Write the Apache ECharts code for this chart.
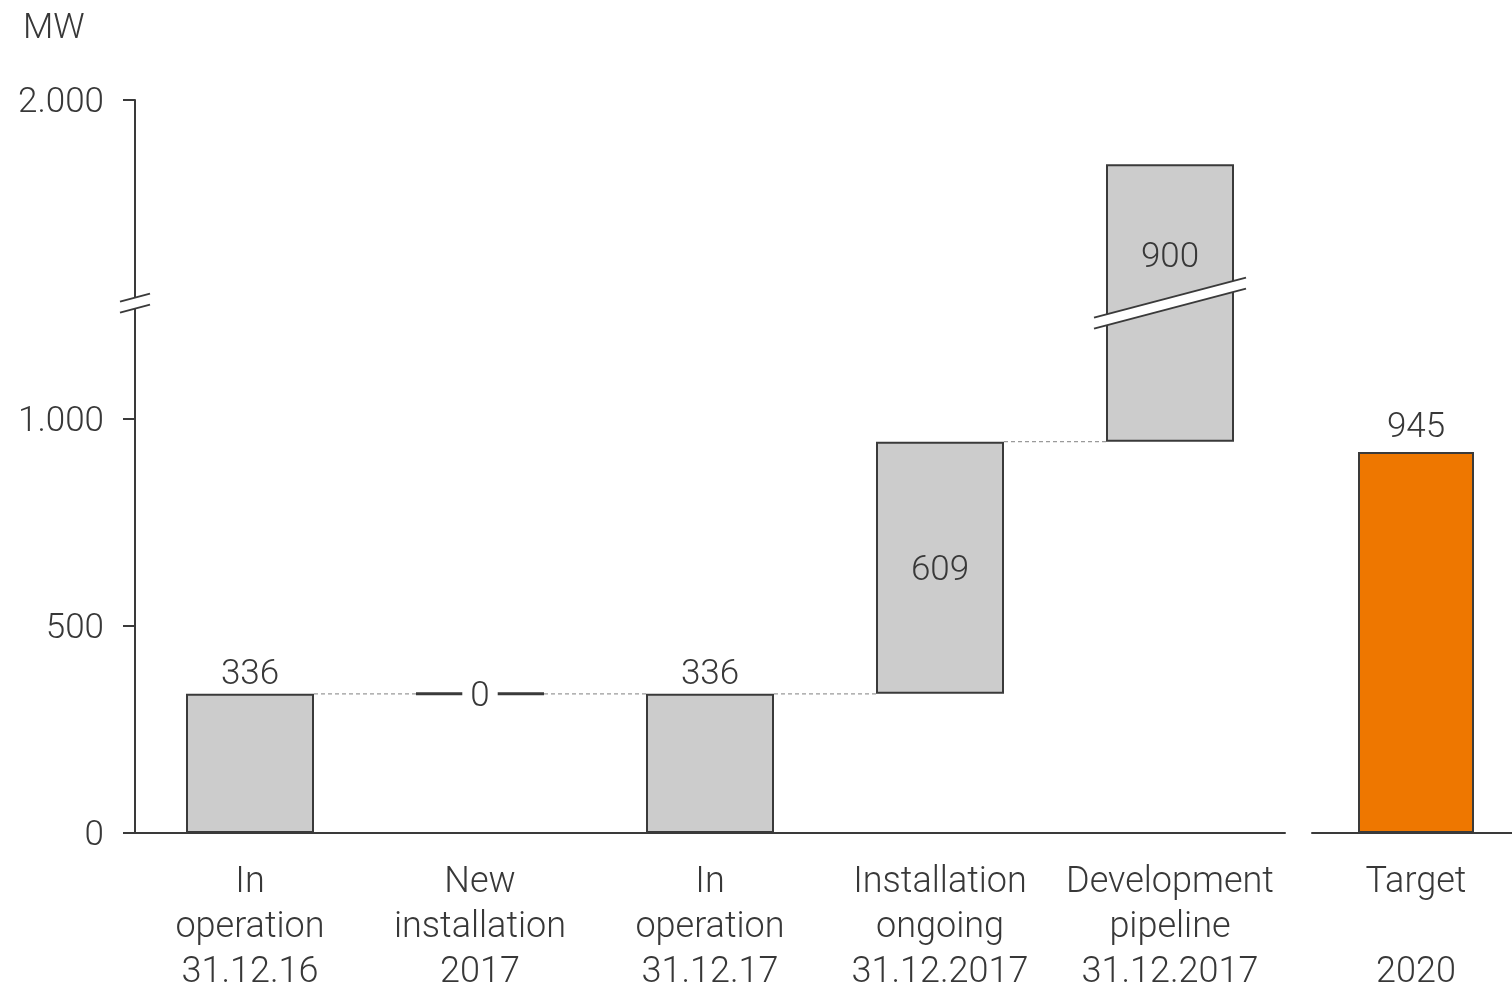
<!DOCTYPE html>
<html>
<head>
<meta charset="utf-8">
<script src="https://cdn.jsdelivr.net/npm/echarts@6/dist/echarts.min.js"></script>
<style>
html,body{margin:0;padding:0;background:#fff;}
#chart{width:1512px;height:989px;}
</style>
</head>
<body>
<div id="chart"></div>
<script>
// ---- data ----
const categories = ['In\noperation\n31.12.16', 'New\ninstallation\n2017', 'In\noperation\n31.12.17', 'Installation\nongoing\n31.12.2017', 'Development\npipeline\n31.12.2017'];
const baseValues = [0, 336, 0, 336, 945];
const stepValues = [336, 0, 336, 609, 900];
const connectorLevels = [336, 336, 336, 945];
const targetCategories = ['Target\n\n2020'];
const targetValues = [945];
const yTickLabels = [0, 500, 1000, 2000];
const unitLabel = 'MW';

// ---- style / layout ----
const FONT = 'Roboto';
const WEIGHT = 350;
const TXT = '#383838';
const LINE = '#3a3a3a';
const GRAY = '#cccccc';
const ORANGE = '#ee7700';
const BAR_W = 128;
const HALF = BAR_W / 2;
const BRK = { start: 1272, end: 1522, gap: 20 };
const breakBarIndex = 4;

const fmt = v => String(Math.round(v)).replace(/\B(?=(\d{3})+(?!\d))/g, '.');

function stepItem(v, i) {
  const item = { value: v };
  if (v === 0) {
    item.itemStyle = { borderWidth: 3, borderColor: LINE };
    item.label = { show: true, position: 'inside', backgroundColor: '#fff', padding: [0, 8], lineHeight: 36, offset: [0, 3] };
  } else if (baseValues[i] === 0) {
    item.label = { show: true, position: 'top', distance: 1 };
  } else if (i === breakBarIndex) {
    item.label = { show: true, position: 'inside', offset: [0, -45] };
  } else {
    item.label = { show: true, position: 'inside', offset: [0, 3] };
  }
  return item;
}

const chart = echarts.init(document.getElementById('chart'), null, { renderer: 'canvas' });

const axisText = { fontFamily: FONT, fontWeight: WEIGHT, fontSize: 35, color: TXT };
const catText = { fontFamily: FONT, fontWeight: WEIGHT, fontSize: 36, color: TXT };

const option = {
  animation: false,
  backgroundColor: '#fff',
  title: {
    text: unitLabel, left: 18, top: 7,
    textStyle: { fontFamily: FONT, fontSize: 35, fontWeight: WEIGHT, color: TXT }
  },
  grid: [
    { left: 135, right: 227, top: 100, bottom: 156, outerBoundsMode: 'none', containLabel: false },
    { left: 1312, width: 208, top: 100, bottom: 156, outerBoundsMode: 'none', containLabel: false }
  ],
  xAxis: [
    {
      type: 'category', gridIndex: 0, data: categories,
      axisLine: { show: true, lineStyle: { color: LINE, width: 2 } },
      axisTick: { show: false },
      axisLabel: Object.assign({ interval: 0, margin: 27, lineHeight: 45 }, catText)
    },
    {
      type: 'category', gridIndex: 1, data: targetCategories,
      axisLine: { show: true, lineStyle: { color: LINE, width: 2 } },
      axisTick: { show: false },
      axisLabel: Object.assign({ interval: 0, margin: 27, lineHeight: 45 }, catText)
    }
  ],
  yAxis: [
    {
      type: 'value', gridIndex: 0, min: 0, max: 2000, interval: 500,
      breaks: [{ start: BRK.start, end: BRK.end, gap: BRK.gap }],
      breakArea: { show: false },
      axisLine: { show: true, lineStyle: { color: LINE, width: 2 } },
      axisTick: { show: true, length: 12, lineStyle: { color: LINE, width: 2 }, customValues: yTickLabels },
      splitLine: { show: false },
      axisLabel: Object.assign({
        margin: 31,
        customValues: yTickLabels,
        formatter: v => '{t|' + fmt(v) + '}',
        rich: { t: { fontFamily: FONT, fontWeight: WEIGHT, fontSize: 35, color: TXT, padding: [7, 0, 0, 0] } }
      }, axisText)
    },
    {
      type: 'value', gridIndex: 1, min: 0, max: 1818, show: false,
      splitLine: { show: false }
    }
  ],
  series: [
    {
      name: 'base', type: 'bar', stack: 'w', xAxisIndex: 0, yAxisIndex: 0,
      barWidth: BAR_W, z: 2,
      itemStyle: { color: 'rgba(0,0,0,0)', borderWidth: 0 },
      label: { show: false },
      emphasis: { disabled: true },
      data: baseValues
    },
    {
      name: 'step', type: 'bar', stack: 'w', xAxisIndex: 0, yAxisIndex: 0,
      barWidth: BAR_W, z: 2,
      itemStyle: { color: GRAY, borderColor: LINE, borderWidth: 2 },
      label: { show: true, fontFamily: FONT, fontWeight: WEIGHT, fontSize: 35, color: TXT },
      emphasis: { disabled: true },
      data: stepValues.map(stepItem)
    },
    {
      name: 'connectors', type: 'custom', xAxisIndex: 0, yAxisIndex: 0, z: 3,
      silent: true,
      data: connectorLevels.map((v, i) => [i, v]),
      renderItem: (params, api) => {
        const i = api.value(0), v = api.value(1);
        const p0 = api.coord([i, v]);
        const p1 = api.coord([i + 1, v]);
        return {
          type: 'line',
          shape: { x1: p0[0] + HALF, y1: p0[1], x2: p1[0] - HALF, y2: p1[1] },
          style: { stroke: '#9a9a9a', lineWidth: 1.3, lineDash: [4, 3] }
        };
      }
    },
    {
      name: 'breakMarks', type: 'custom', xAxisIndex: 0, yAxisIndex: 0, z: 6,
      silent: true, clip: false,
      data: [[breakBarIndex, BRK.start]],
      renderItem: (params, api) => {
        const idx = api.value(0);
        const pA = api.coord([idx, BRK.start]);
        const pB = api.coord([idx, BRK.end]);
        const cx = pA[0];
        const cy = (pA[1] + pB[1]) / 2 + 1;
        const ax = params.coordSys.x;
        function mark(x, hw, rise, d) {
          const x1 = x - hw, x2 = x + hw;
          const yl = cy + rise, yr = cy - rise;
          return [
            { type: 'polygon', shape: { points: [[x1, yl - d], [x2, yr - d], [x2, yr + d], [x1, yl + d]] },
              style: { fill: '#fff', stroke: null } },
            { type: 'line', shape: { x1: x1, y1: yl - d, x2: x2, y2: yr - d }, style: { stroke: LINE, lineWidth: 2 } },
            { type: 'line', shape: { x1: x1, y1: yl + d, x2: x2, y2: yr + d }, style: { stroke: LINE, lineWidth: 2 } }
          ];
        }
        return {
          type: 'group',
          children: mark(cx, HALF + 12, 20, 5.5).concat(mark(ax, 15, 4, 5.5))
        };
      }
    },
    {
      name: 'target', type: 'bar', xAxisIndex: 1, yAxisIndex: 1,
      barWidth: 116, z: 2,
      itemStyle: { color: ORANGE, borderColor: LINE, borderWidth: 2 },
      label: { show: true, position: 'top', distance: 6, fontFamily: FONT, fontWeight: WEIGHT, fontSize: 35, color: TXT },
      emphasis: { disabled: true },
      data: targetValues
    }
  ]
};

chart.setOption(option);
</script>
</body>
</html>
